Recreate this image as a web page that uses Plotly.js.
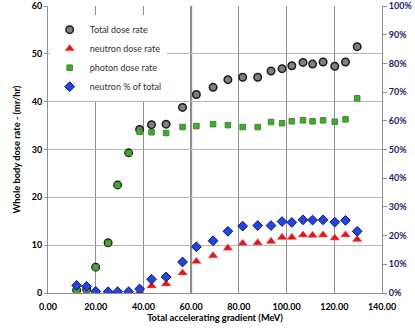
<!DOCTYPE html>
<html>
<head>
<meta charset="utf-8">
<script src="https://cdn.plot.ly/plotly-3.0.1.min.js"></script>
<style>
  html, body { margin: 0; padding: 0; background: #fff; }
  #chart { width: 415px; height: 328px; }
</style>
</head>
<body>
<div id="chart"></div>
<script>
// accelerating gradient (MeV)
var gradient = [12.0, 16.2, 20.0, 25.2, 29.2, 33.8, 38.4, 43.4, 49.5, 56.4, 62.2, 69.2,
                75.4, 81.6, 87.9, 93.5, 98.1, 102.2, 106.9, 110.9, 115.3, 120.2, 124.7, 129.6];
// dose rates (mr/hr)
var totalDose = [0.6, 0.75, 5.4, 10.5, 22.6, 29.3, 34.2, 35.2, 35.3, 38.8, 41.5, 43.0,
                 44.6, 45.1, 45.1, 46.4, 46.9, 47.5, 48.2, 47.85, 48.3, 47.4, 48.3, 51.5];
var neutronDose = [0.05, 0.05, 0.05, 0.05, 0.05, 0.05, 0.2, 1.5, 1.9, 4.2, 6.6, 7.8,
                   9.4, 10.4, 10.5, 10.8, 11.65, 11.65, 12.15, 12.05, 12.15, 11.5, 12.15, 11.2];
var photonDose = [0.55, 0.7, 5.35, 10.45, 22.55, 29.25, 33.7, 33.6, 33.45, 34.7, 34.9, 35.3,
                  35.1, 34.7, 34.7, 35.75, 35.5, 35.9, 36.1, 35.9, 36.1, 35.8, 36.3, 40.7];
// neutron share of total (fraction)
var neutronPct = [0.0265, 0.023, 0.0055, 0.0045, 0.0045, 0.0045, 0.014, 0.048, 0.056, 0.108, 0.161, 0.182,
                  0.215, 0.233, 0.235, 0.235, 0.249, 0.246, 0.255, 0.254, 0.255, 0.247, 0.253, 0.215];

var xTicks = [0, 20, 40, 60, 80, 100, 120, 140];
var xTickText = ['0.00', '20.00', '40.00', '60.00', '80.00', '100.00', '120.00', '140.00'];

var total = {
  x: gradient, y: totalDose, name: 'Total dose rate',
  type: 'scatter', mode: 'markers',
  marker: {symbol: 'circle', size: 7.5, color: '#808080', line: {color: '#1a1a1a', width: 1.5}}
};
var neutron = {
  x: gradient, y: neutronDose, name: 'neutron dose rate',
  type: 'scatter', mode: 'markers',
  marker: {symbol: 'triangle-up', size: 8.5, color: '#e3141b', line: {color: '#f08080', width: 0.5}}
};
var photon = {
  x: gradient, y: photonDose, name: 'photon dose rate',
  type: 'scatter', mode: 'markers',
  marker: {symbol: 'square', size: 5.5, color: '#2fb52f', line: {color: '#5b7a2e', width: 1}}
};
var share = {
  x: gradient, y: neutronPct, name: 'neutron % of total',
  type: 'scatter', mode: 'markers', yaxis: 'y2',
  marker: {symbol: 'diamond', size: 7.5, color: '#2346e0', line: {color: '#101070', width: 1}}
};

var data = [total, neutron, photon, share];

var tickFont = {family: 'Lato, "Open Sans", sans-serif', size: 9, color: '#000'};

var layout = {
  width: 415,
  height: 328,
  margin: {l: 48, r: 33, t: 6, b: 35},
  paper_bgcolor: '#fff',
  plot_bgcolor: '#fff',
  showlegend: true,
  legend: {
    x: 0.005, y: 0.968, xanchor: 'left', yanchor: 'top',
    bgcolor: '#fff',
    font: {family: 'Lato, "Open Sans", sans-serif', size: 9, color: '#333'},
    itemwidth: 30,
    tracegroupgap: 0
  },
  xaxis: {
    title: {text: '<b>Total accelerating gradient (MeV)</b>', font: {family: 'Lato, sans-serif', size: 9.3, color: '#000'}, standoff: 2},
    range: [0, 140],
    tickvals: xTicks,
    ticktext: xTickText.map(function (t) { return '<b>' + t + '</b>'; }),
    tickfont: tickFont,
    showgrid: true, gridcolor: '#8f8f8f', gridwidth: 1,
    zeroline: false,
    showline: true, linecolor: '#8f8f8f', linewidth: 1,
    ticks: 'outside', ticklen: 5, tickcolor: 'rgba(0,0,0,0)'
  },
  yaxis: {
    title: {text: '<b>Whole body dose rate - (mr/hr)</b>', font: {family: 'Lato, sans-serif', size: 9.3, color: '#000'}, standoff: 9},
    range: [0, 60],
    dtick: 10,
    tickprefix: '<b>', ticksuffix: '</b>',
    tickfont: tickFont,
    showgrid: true, gridcolor: '#b5b5b5', gridwidth: 1,
    zeroline: false,
    showline: true, linecolor: '#8f8f8f', linewidth: 1,
    ticks: 'outside', ticklen: 3, tickcolor: '#8f8f8f'
  },
  yaxis2: {
    overlaying: 'y', side: 'right',
    range: [0, 1],
    dtick: 0.1,
    tickformat: '.0%',
    tickprefix: '<b>', ticksuffix: '</b>',
    tickfont: {family: 'Lato, "Open Sans", sans-serif', size: 9, color: '#1c1c6e'},
    showgrid: false,
    zeroline: false,
    showline: true, linecolor: '#8f8f8f', linewidth: 1,
    ticks: 'outside', ticklen: 4, tickcolor: '#8f8f8f'
  },
  shapes: [
    // darker line at 60 MeV
    {type: 'line', xref: 'x', yref: 'paper', x0: 60, x1: 60, y0: 0, y1: 1,
     line: {color: '#7a7a7a', width: 2}, layer: 'below'}
  ]
};

var config = {displayModeBar: false, staticPlot: true};

Plotly.newPlot('chart', data, layout, config);
</script>
</body>
</html>
